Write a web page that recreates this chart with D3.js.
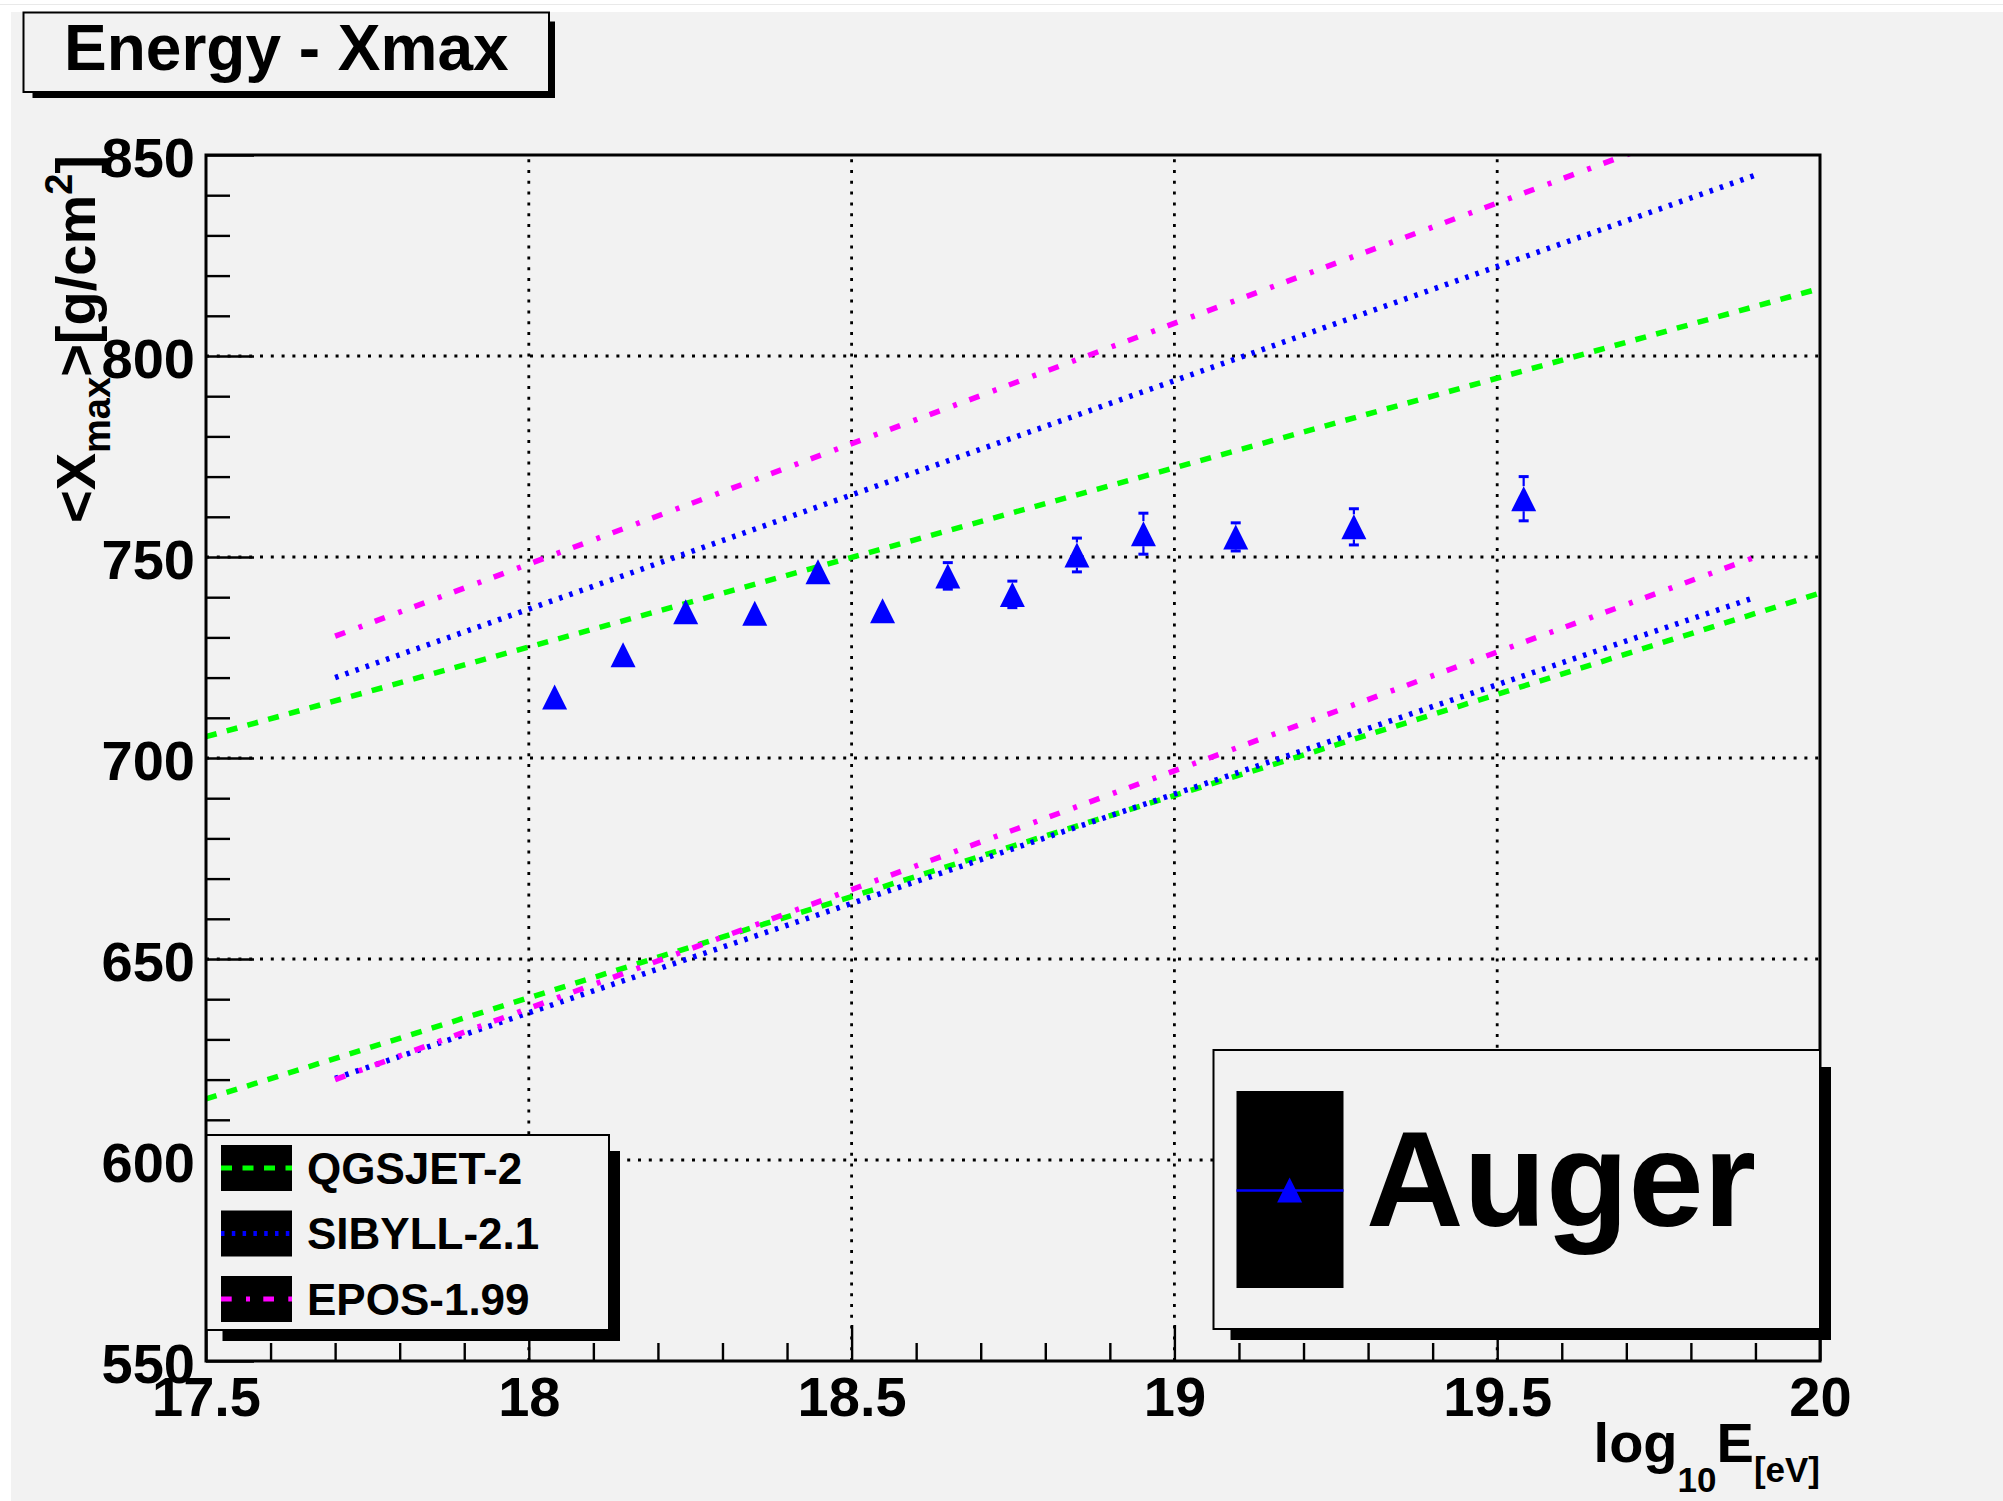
<!DOCTYPE html>
<html>
<head>
<meta charset="utf-8">
<script src="https://cdn.jsdelivr.net/npm/d3@7"></script>
<style>
  html, body { margin: 0; padding: 0; background: #ffffff; }
  svg { display: block; }
  text { font-family: "Liberation Sans", Arial, Helvetica, sans-serif; font-weight: bold; fill: #000; }
</style>
</head>
<body>
<script>
// ---------------- data ----------------
const xTicks = [17.5, 18, 18.5, 19, 19.5, 20];
const yTicks = [550, 600, 650, 700, 750, 800, 850];

// Auger measurements: log10(E/eV), <Xmax> [g/cm^2], stat. error
const augerEnergy = [18.04, 18.146, 18.243, 18.35, 18.448, 18.548, 18.649, 18.749, 18.849, 18.952, 19.095, 19.278, 19.541];
const augerXmax   = [715.2, 725.7, 736.4, 736.0, 746.3, 736.6, 745.3, 740.7, 750.5, 755.8, 755.0, 757.5, 764.5];
const augerErr    = [2.0, 2.2, 2.4, 2.5, 2.8, 2.9, 3.3, 3.3, 4.2, 5.1, 3.5, 4.5, 5.5];

// Model predictions (proton = upper line, iron = lower line)
const modelNames   = ["QGSJET-2", "SIBYLL-2.1", "EPOS-1.99"];
const qgsjetEnergy = [17.5, 20.0];
const qgsjetProton = [705.3, 816.8];
const qgsjetIron   = [615.2, 741.0];
const sibyllEnergy = [17.7, 19.9];
const sibyllProton = [720.0, 845.0];
const sibyllIron   = [620.3, 740.0];
const eposEnergy   = [17.7, 19.9];
const eposProton   = [730.3, 862.0];
const eposIron     = [620.0, 750.0];

const titleText = "Energy - Xmax";
const augerLabel = "Auger";

// ---------------- layout ----------------
const W = 2003, H = 1501;
const X0 = 206, X1 = 1820, Y0 = 155, Y1 = 1361;
const MR = 12.5; // marker half size

const svg = d3.select("body").append("svg").attr("width", W).attr("height", H);

// canvas background
svg.append("rect").attr("x", 0).attr("y", 0).attr("width", W).attr("height", H).attr("fill", "#ffffff");
svg.append("line").attr("x1", 0).attr("x2", W).attr("y1", 4.5).attr("y2", 4.5).attr("stroke", "#e9e9e9").attr("stroke-width", 1);
svg.append("rect").attr("x", 11).attr("y", 12).attr("width", W - 11).attr("height", H - 12).attr("fill", "#f2f2f2");

const x = d3.scaleLinear().domain([17.5, 20]).range([X0, X1]);
const y = d3.scaleLinear().domain([550, 850]).range([Y1, Y0]);

svg.append("defs").append("clipPath").attr("id", "plotclip")
  .append("rect").attr("x", X0).attr("y", Y0).attr("width", X1 - X0).attr("height", Y1 - Y0);

// ---------------- grid ----------------
const grid = svg.append("g");
grid.selectAll("line.gx").data(xTicks.filter(d => d > 17.5 && d < 20)).enter().append("line")
  .attr("x1", d => x(d)).attr("x2", d => x(d)).attr("y1", Y1).attr("y2", Y0)
  .attr("stroke", "#000").attr("stroke-width", 2.8).attr("stroke-dasharray", "3 7.8");
grid.selectAll("line.gy").data(yTicks.filter(d => d > 550 && d < 850)).enter().append("line")
  .attr("x1", X0).attr("x2", X1).attr("y1", d => y(d)).attr("y2", d => y(d))
  .attr("stroke", "#000").attr("stroke-width", 2.8).attr("stroke-dasharray", "3 7.8");

// ---------------- model lines ----------------
const styles = [
  { color: "#00ff00", dash: "11 10.5" },
  { color: "#0000ff", dash: "3.5 7.3" },
  { color: "#ff00ff", dash: "10.7 14.3 4 13.3" }
];
const modelSets = [
  { e: qgsjetEnergy, p: qgsjetProton, fe: qgsjetIron, s: styles[0] },
  { e: sibyllEnergy, p: sibyllProton, fe: sibyllIron, s: styles[1] },
  { e: eposEnergy,   p: eposProton,   fe: eposIron,   s: styles[2] }
];
const lineGen = d3.line().x(d => x(d[0])).y(d => y(d[1]));
const models = svg.append("g").attr("clip-path", "url(#plotclip)");
modelSets.forEach(m => {
  [m.p, m.fe].forEach(vals => {
    models.append("path")
      .attr("d", lineGen(m.e.map((e, i) => [e, vals[i]])))
      .attr("fill", "none").attr("stroke", m.s.color).attr("stroke-width", 5.5)
      .attr("stroke-dasharray", m.s.dash);
  });
});

// ---------------- axes ----------------
const majorX = d3.axisBottom(x).tickValues(xTicks).tickSize(-36).tickPadding(15).tickFormat(d3.format("~g"));
const minorXvals = d3.range(17.5, 20.0001, 0.1).map(v => +v.toFixed(1)).filter(v => !xTicks.includes(v));
const minorX = d3.axisBottom(x).tickValues(minorXvals).tickSize(-18).tickFormat("");
const majorY = d3.axisLeft(y).tickValues(yTicks).tickSize(-48).tickPadding(11).tickFormat(d3.format("d"));
const minorYvals = d3.range(550, 851, 10).filter(v => !yTicks.includes(v));
const minorY = d3.axisLeft(y).tickValues(minorYvals).tickSize(-24).tickFormat("");

function styleAxis(g) {
  g.select(".domain").remove();
  g.selectAll(".tick line").attr("stroke", "#000").attr("stroke-width", 2.4);
  g.selectAll("text").attr("font-size", 56).attr("font-family", "Liberation Sans, Arial, sans-serif")
    .attr("font-weight", "bold").attr("fill", "#000");
}
svg.append("g").attr("transform", `translate(0,${Y1})`).call(minorX).call(styleAxis);
svg.append("g").attr("transform", `translate(0,${Y1})`).call(majorX).call(styleAxis);
svg.append("g").attr("transform", `translate(${X0},0)`).call(minorY).call(styleAxis);
const gy = svg.append("g").attr("transform", `translate(${X0},0)`).call(majorY).call(styleAxis);
gy.selectAll("text").attr("dy", "0.375em");

// ---------------- data points ----------------
const pts = svg.append("g").attr("clip-path", "url(#plotclip)");
const data = augerEnergy.map((e, i) => ({ e, v: augerXmax[i], err: augerErr[i] }));
// ROOT-like: error bars only outside the marker
const withBars = data.filter(d => (y(d.v - d.err) - y(d.v)) > MR);
withBars.forEach(d => {
  const cx = x(d.e), cy = y(d.v), top = y(d.v + d.err), bot = y(d.v - d.err);
  pts.append("line").attr("x1", cx).attr("x2", cx).attr("y1", cy - MR).attr("y2", top)
    .attr("stroke", "#0000ff").attr("stroke-width", 2.2);
  pts.append("line").attr("x1", cx).attr("x2", cx).attr("y1", cy + MR).attr("y2", bot)
    .attr("stroke", "#0000ff").attr("stroke-width", 2.2);
  [top, bot].forEach(yy => pts.append("line").attr("x1", cx - 5).attr("x2", cx + 5)
    .attr("y1", yy).attr("y2", yy).attr("stroke", "#0000ff").attr("stroke-width", 3));
});
const tri = (cx, cy, r) => `M${cx - r},${cy + r}L${cx + r},${cy + r}L${cx},${cy - r}Z`;
pts.selectAll("path.tri").data(data).enter().append("path")
  .attr("d", d => tri(x(d.e), y(d.v), MR)).attr("fill", "#0000ff");

// frame
svg.append("rect").attr("x", X0).attr("y", Y0).attr("width", X1 - X0).attr("height", Y1 - Y0)
  .attr("fill", "none").attr("stroke", "#000").attr("stroke-width", 3);

// ---------------- axis titles ----------------
const xt = svg.append("text").attr("x", X1).attr("y", 1462).attr("text-anchor", "end").attr("font-size", 56);
xt.append("tspan").text("log");
xt.append("tspan").attr("font-size", 35).attr("dy", 30).text("10");
xt.append("tspan").attr("dy", -30).text("E");
xt.append("tspan").attr("font-size", 35).attr("dy", 20).text("[eV]");

const yt = svg.append("text").attr("transform", `translate(95,${Y0}) rotate(-90)`)
  .attr("text-anchor", "end").attr("font-size", 56);
yt.append("tspan").text("<X");
yt.append("tspan").attr("font-size", 38).attr("dy", 15).text("max");
yt.append("tspan").attr("dy", -15).text(">[g/cm");
yt.append("tspan").attr("font-size", 38).attr("dy", -23).text("2");
yt.append("tspan").attr("dy", 23).text("]");

// ---------------- helper: ROOT-style box with shadow ----------------
function paveBox(x0, y0, x1, y1, sh, off) {
  svg.append("rect").attr("x", x0 + off).attr("y", y1).attr("width", x1 - x0 - off + sh).attr("height", sh).attr("fill", "#000");
  svg.append("rect").attr("x", x1).attr("y", y0 + off).attr("width", sh).attr("height", y1 - y0 - off + sh).attr("fill", "#000");
  svg.append("rect").attr("x", x0).attr("y", y0).attr("width", x1 - x0).attr("height", y1 - y0)
    .attr("fill", "#f2f2f2").attr("stroke", "#000").attr("stroke-width", 2);
}

// ---------------- model legend ----------------
paveBox(206.5, 1135, 609, 1330, 11, 16);
modelNames.forEach((name, i) => {
  const cy = 1168 + i * 65.5;
  svg.append("rect").attr("x", 221).attr("y", cy - 23).attr("width", 71).attr("height", 46).attr("fill", "#000");
  svg.append("line").attr("x1", 221).attr("x2", 292).attr("y1", cy).attr("y2", cy)
    .attr("stroke", styles[i].color).attr("stroke-width", 5).attr("stroke-dasharray", styles[i].dash);
  svg.append("text").attr("x", 307).attr("y", cy + 15.5).attr("font-size", 44).text(name);
});

// ---------------- Auger legend ----------------
paveBox(1213.5, 1050, 1820, 1329, 11, 17);
svg.append("rect").attr("x", 1236.5).attr("y", 1091).attr("width", 107).attr("height", 197).attr("fill", "#000");
svg.append("line").attr("x1", 1236.5).attr("x2", 1343.5).attr("y1", 1190.5).attr("y2", 1190.5)
  .attr("stroke", "#0000ff").attr("stroke-width", 2.7);
svg.append("path").attr("d", tri(1289.6, 1190, MR)).attr("fill", "#0000ff");
svg.append("text").attr("x", 1366).attr("y", 1226).attr("font-size", 135).text(augerLabel);

// ---------------- title ----------------
paveBox(23.5, 12.5, 549, 92, 6, 9);
svg.append("text").attr("x", 64).attr("y", 69.5).attr("font-size", 64).text(titleText);
</script>
</body>
</html>
